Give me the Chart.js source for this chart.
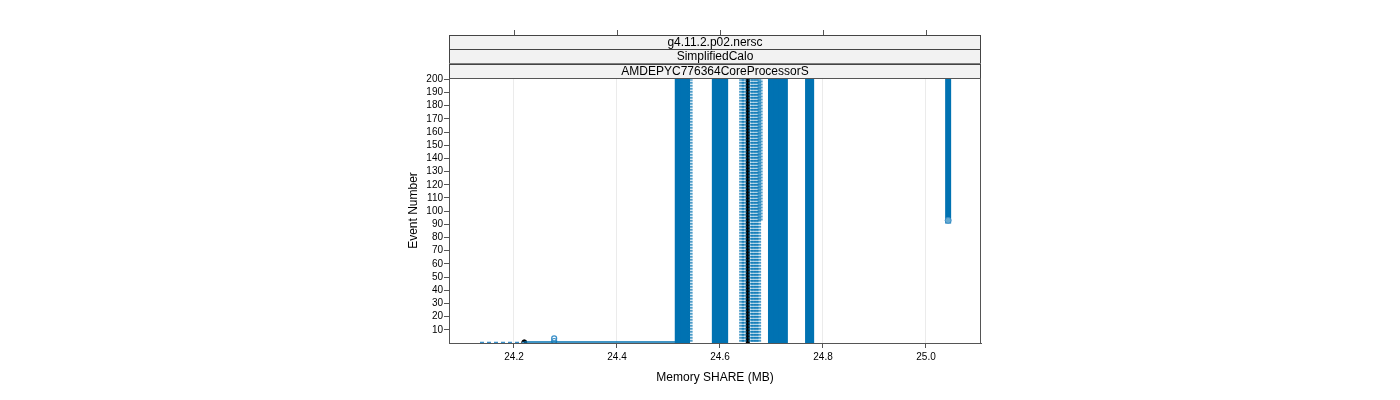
<!DOCTYPE html>
<html>
<head>
<meta charset="utf-8">
<script src="https://cdn.jsdelivr.net/npm/chart.js@4.4.0/dist/chart.umd.min.js"></script>
<style>
  html, body { margin: 0; padding: 0; background: #fff; }
</style>
</head>
<body>
<canvas id="memChart" width="1400" height="400"></canvas>
<script>
// strip labels (top to bottom) and axis ticks
const stripLabels = ['g4.11.2.p02.nersc', 'SimplifiedCalo', 'AMDEPYC776364CoreProcessorS'];
const xTickValues = [24.2, 24.4, 24.6, 24.8, 25.0];
const yTickValues = [10, 20, 30, 40, 50, 60, 70, 80, 90, 100, 110, 120, 130, 140, 150, 160, 170, 180, 190, 200];

// steady memory (MB) of each run
const solidRuns = [24.518, 24.524, 24.530, 24.536, 24.590, 24.598, 24.604, 24.610,
                   24.699, 24.707, 24.715, 24.720, 24.726, 24.771, 24.777, 25.043];
const solidRunsFirstEvent = [1, 1, 1, 1, 1, 1, 1, 1, 1, 1, 1, 1, 1, 1, 1, 93];
const lightRuns = [24.542, 24.642, 24.647, 24.660, 24.665, 24.670, 24.675, 24.678];
const lightRunsFirstEvent = [1, 1, 1, 1, 1, 1, 1, 93];
const blackRun = 24.654;

// first-event values near the bottom
const baselineSolid = [24.22, 24.518];
const baselineDashed = [24.134, 24.22];
const blackStart = { x: 24.22, y: 0.5 };
const blueStarts = [{ x: 24.278, y: 1.5 }, { x: 24.278, y: 3.5 }];

const BLUE = '#0072B2';
const LIGHT = 'rgba(0,114,178,0.7)';
const LAST_EVENT = 200;

let datasets = [];

lightRuns.forEach((m, i) => {
  datasets.push({
    data: [{ x: m, y: lightRunsFirstEvent[i] }, { x: m, y: LAST_EVENT }],
    showLine: true,
    borderColor: LIGHT,
    borderWidth: 5,
    borderDash: [2, 1],
    pointRadius: 0
  });
});

solidRuns.forEach((m, i) => {
  datasets.push({
    data: [{ x: m, y: solidRunsFirstEvent[i] }, { x: m, y: LAST_EVENT }],
    showLine: true,
    borderColor: BLUE,
    borderWidth: 6,
    borderCapStyle: 'square',
    pointRadius: solidRunsFirstEvent[i] > 1 ? [3, 0] : 0,
    pointBorderColor: '#3a8fc8',
    pointBackgroundColor: 'rgba(255,255,255,0.4)',
    pointBorderWidth: 1
  });
});

datasets.push({
  data: [{ x: blackRun, y: 1 }, { x: blackRun, y: LAST_EVENT }],
  showLine: true,
  borderColor: '#000',
  borderWidth: 4,
  borderCapStyle: 'square',
  pointRadius: 0
});

datasets.push({
  data: baselineSolid.map(v => ({ x: v, y: 0.8 })),
  showLine: true,
  borderColor: BLUE,
  borderWidth: 1.5,
  pointRadius: 0
});

datasets.push({
  data: baselineDashed.map(v => ({ x: v, y: 0.3 })),
  showLine: true,
  borderColor: '#3a8fc8',
  borderWidth: 1.5,
  borderDash: [4, 3],
  pointRadius: 0
});

datasets.push({
  data: blueStarts,
  showLine: false,
  pointRadius: 2.5,
  pointBorderColor: '#3a8fc8',
  pointBackgroundColor: 'rgba(255,255,255,0)',
  pointBorderWidth: 1.2
});

datasets.push({
  data: [blackStart],
  showLine: false,
  pointRadius: 2.5,
  pointBorderColor: '#000',
  pointBackgroundColor: '#000'
});

// strips, top ticks and panel frame, lattice style
const stripPlugin = {
  id: 'strips',
  afterDraw(chart) {
    const ctx = chart.ctx;
    const a = chart.chartArea;
    const xs = chart.scales.x;
    const h = (a.top - 35) / stripLabels.length;
    ctx.save();
    ctx.lineWidth = 1;
    ctx.strokeStyle = '#444';
    stripLabels.forEach((label, i) => {
      const y = 35 + i * h;
      ctx.fillStyle = '#f2f2f2';
      ctx.fillRect(a.left, y, a.right - a.left, h);
      ctx.strokeRect(a.left + 0.5, Math.round(y) + 0.5, a.right - a.left - 1, Math.round(h));
      ctx.fillStyle = '#000';
      ctx.font = '12px "Liberation Sans", Arial, sans-serif';
      ctx.textAlign = 'center';
      ctx.textBaseline = 'middle';
      ctx.fillText(label, (a.left + a.right) / 2, y + h / 2 + 0.5);
    });
    ctx.strokeStyle = '#555';
    xTickValues.forEach(v => {
      const px = Math.round(xs.getPixelForValue(v)) + 0.5;
      ctx.beginPath();
      ctx.moveTo(px, 30);
      ctx.lineTo(px, 35);
      ctx.stroke();
    });
    ctx.strokeRect(a.left + 0.5, a.top + 0.5, a.right - a.left - 1, a.bottom - a.top);
    ctx.restore();
  }
};

new Chart(document.getElementById('memChart').getContext('2d'), {
  type: 'scatter',
  data: { datasets: datasets },
  plugins: [stripPlugin],
  options: {
    responsive: false,
    animation: false,
    layout: { padding: { left: 402, right: 419, top: 78, bottom: 11 } },
    plugins: { legend: { display: false }, tooltip: { enabled: false } },
    scales: {
      x: {
        type: 'linear',
        min: 24.0738,
        max: 25.1068,
        afterBuildTicks: s => { s.ticks = xTickValues.map(v => ({ value: v })); },
        afterFit: s => { s.height = 46; },
        ticks: {
          color: '#000',
          font: { size: 10, family: '"Liberation Sans", Arial, sans-serif' },
          padding: 3,
          maxRotation: 0,
          autoSkip: false,
          callback: v => Number(v).toFixed(1)
        },
        grid: { color: '#ebebeb', tickColor: '#555', tickLength: 5 },
        border: { color: '#555' },
        title: {
          display: true,
          text: 'Memory SHARE (MB)',
          color: '#000',
          font: { size: 12, family: '"Liberation Sans", Arial, sans-serif' }
        }
      },
      y: {
        type: 'linear',
        min: 0,
        max: 201,
        afterBuildTicks: s => { s.ticks = yTickValues.map(v => ({ value: v })); },
        afterFit: s => { s.width = 47; },
        ticks: {
          color: '#000',
          font: { size: 10, family: '"Liberation Sans", Arial, sans-serif' },
          padding: 1,
          autoSkip: false
        },
        grid: { drawOnChartArea: false, tickColor: '#555', tickLength: 5 },
        border: { color: '#555' },
        title: {
          display: true,
          text: 'Event Number',
          color: '#000',
          font: { size: 12, family: '"Liberation Sans", Arial, sans-serif' }
        }
      }
    }
  }
});
</script>
</body>
</html>
